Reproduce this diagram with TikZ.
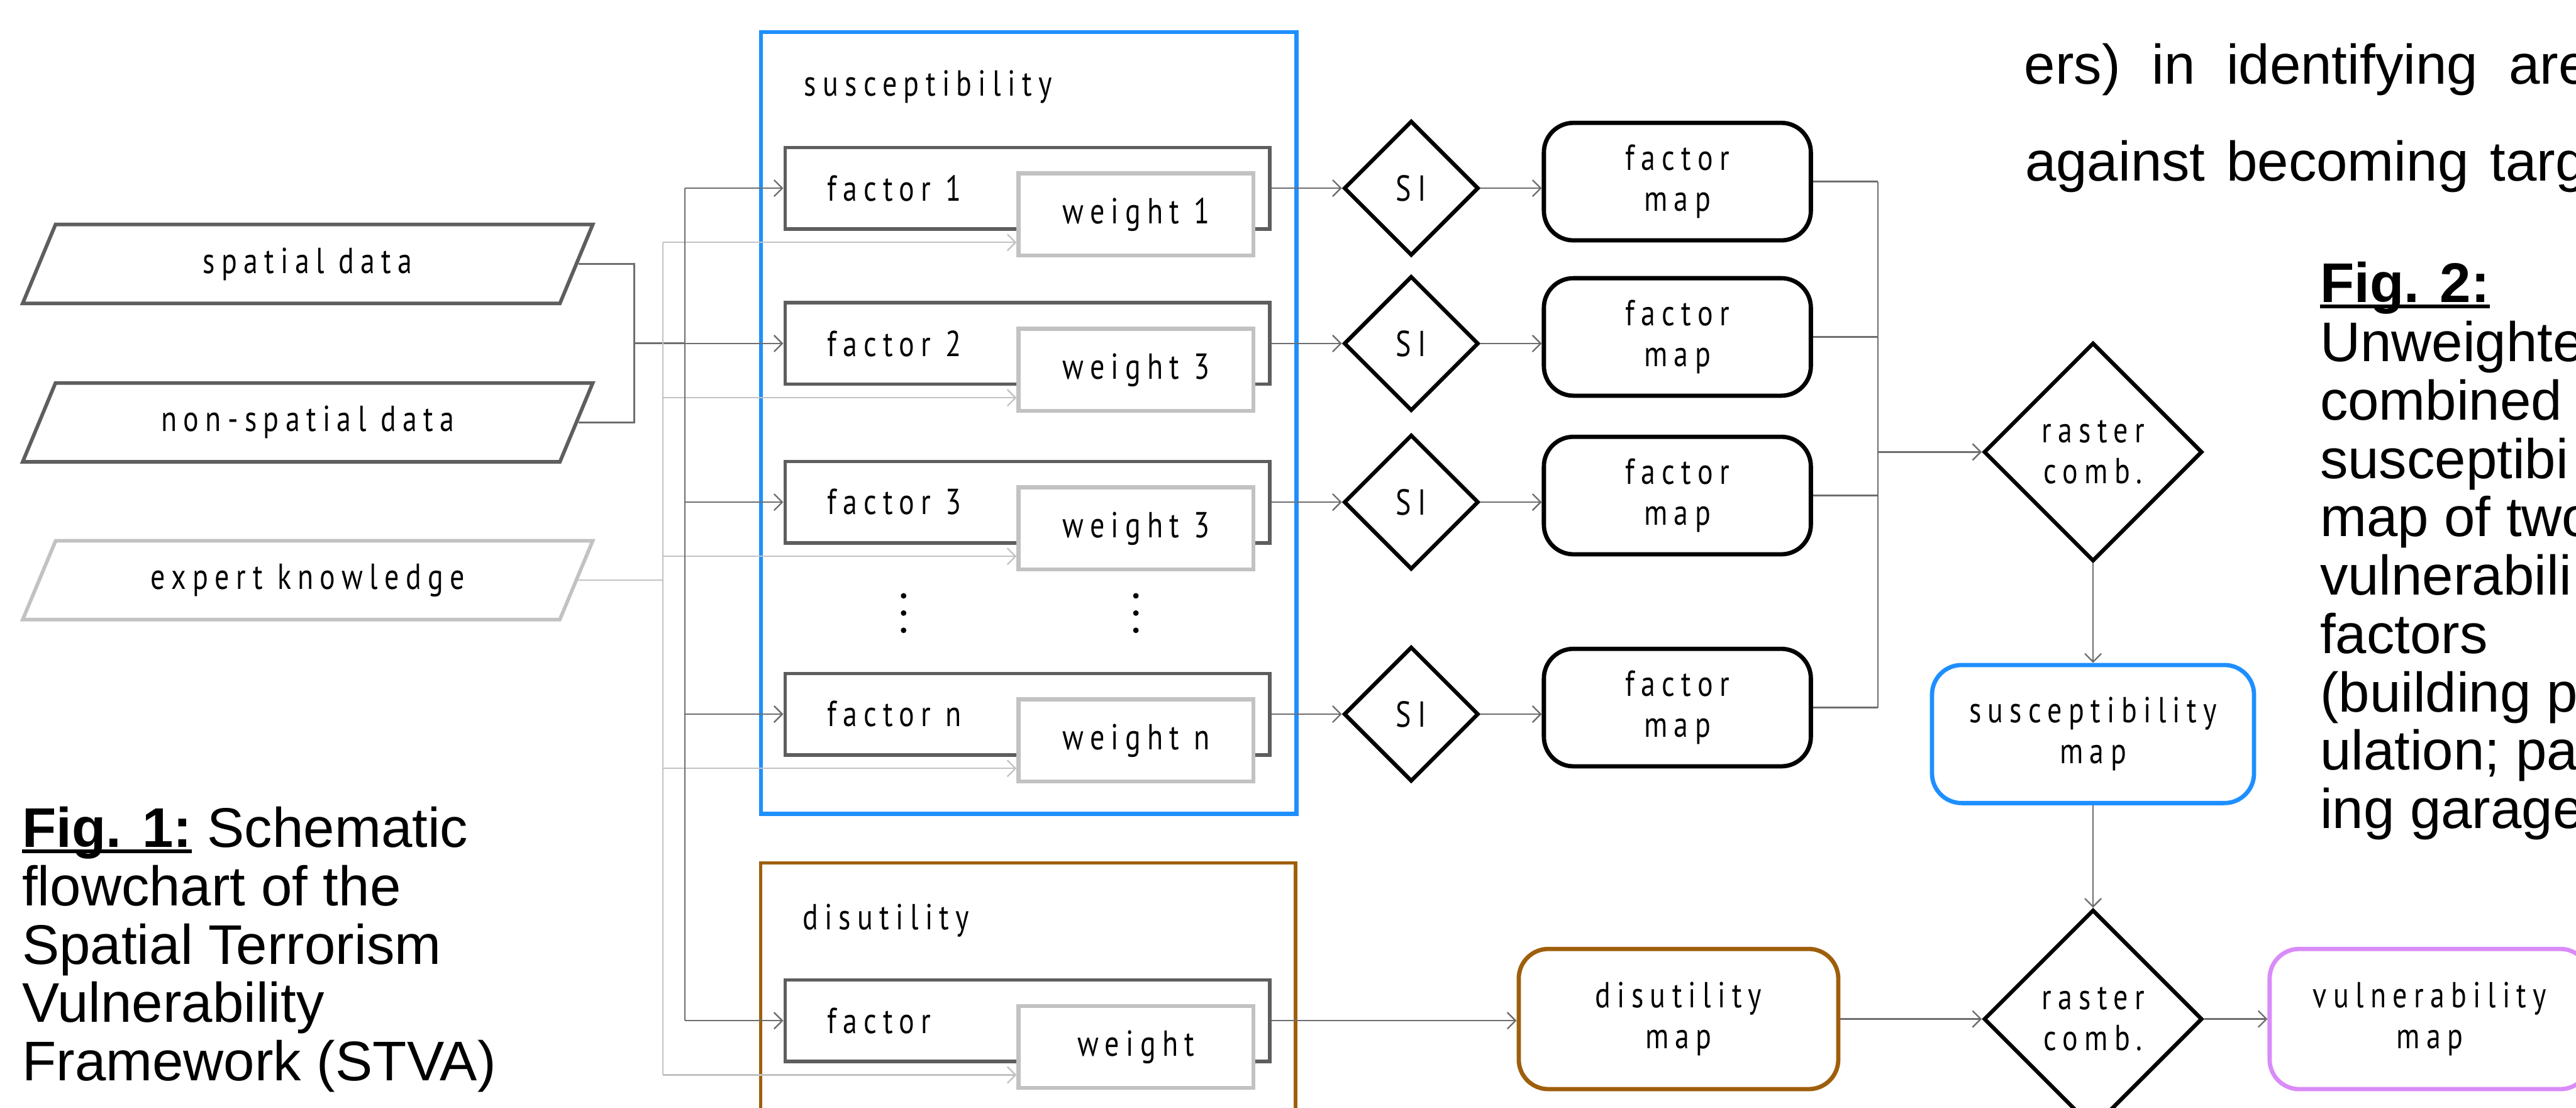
\documentclass[tikz,border=0pt]{standalone}
\usepackage{fontspec}
\setmainfont{Liberation Sans}
\newfontfamily\handfont[FakeStretch=0.8,LetterSpace=18]{PT Sans}
\usetikzlibrary{shapes.geometric,arrows.meta}
\definecolor{cblue}{HTML}{1E8FFF}
\definecolor{cbrown}{HTML}{9E5F0C}
\definecolor{cviolet}{HTML}{D98BF8}
\definecolor{dgrey}{HTML}{5E5E5E}
\definecolor{lgrey}{HTML}{C2C2C2}
\definecolor{cgrey}{HTML}{6E6E6E}
\newcommand\figul[1]{\setbox0\hbox{#1}\rlap{\rule[-0.1em]{\wd0}{0.06em}}\box0\relax}
\begin{document}
\begin{tikzpicture}[x=1pt,y=-1pt,
 hand/.style={font=\handfont\fontsize{22}{25}\selectfont},
 captxt/.style={font=\fontsize{34}{35.5}\selectfont, inner sep=0pt, anchor=base west},
 para/.style={trapezium, trapezium left angle=45, trapezium right angle=135, trapezium stretches body, minimum width=347pt, minimum height=48pt, inner sep=0pt, line width=2.2pt, hand},
 fbox/.style={draw=dgrey, line width=2.2pt, minimum width=295pt, minimum height=49.5pt, inner sep=0pt},
 wbox/.style={draw=lgrey, fill=white, line width=2.4pt, minimum width=143pt, minimum height=50pt, inner sep=0pt, hand},
 sidia/.style={diamond, draw=black, line width=2.4pt, minimum width=82pt, minimum height=82pt, inner sep=0pt, hand},
 rmap/.style={draw, rounded corners=18pt, line width=2.6pt, align=center, inner sep=0pt, hand},
 rdia/.style={diamond, draw=black, line width=2.4pt, minimum width=133pt, minimum height=133pt, inner sep=0pt, align=center, hand},
 conn/.style={draw=cgrey, line width=0.9pt},
 lconn/.style={draw=lgrey, line width=0.9pt},
 arr/.style={conn, -{Straight Barb[length=5pt,width=10pt]}},
 larr/.style={lconn, -{Straight Barb[length=5pt,width=10pt]}},
]
\useasboundingbox (0,0) rectangle (1568,674);

% frames
\node[draw=cblue, line width=2.6pt, minimum width=326pt, minimum height=475.5pt, inner sep=0pt] (suscframe) at (626.2,257.3) {};
\node[draw=cbrown, line width=2.2pt, minimum width=325.6pt, minimum height=190pt, inner sep=0pt] (disframe) at (625.8,620) {};
\node[hand, anchor=west] (susclbl) at (486,53) {susceptibility};
\node[hand, anchor=west] (dislbl) at (485,560) {disutility};

% inputs
\node[para, draw=dgrey] (spatial) at (187.3,160.6) {spatial data};
\node[para, draw=dgrey] (nonsp) at (187.3,257) {non-spatial data};
\node[para, draw=lgrey] (expert) at (187.3,353) {expert knowledge};

\coordinate (dbus) at (417,114.5);
\coordinate (lbus) at (403.4,147.5);
\coordinate (jn) at (386,208.8);
\coordinate (br) at (1143,275);

% factor rows
\foreach \rw/\ty/\fl/\wl in {1/114.5/1/1, 2/209/2/3, 3/305.5/3/3, 4/434.5/n/n}{
  \node[fbox] (f\rw) at (625.4,\ty) {};
  \node[hand, anchor=west] (ft\rw) at (500,\ty) {factor \fl};
  \node[wbox] (w\rw) at (691.5,\ty+16) {weight \wl};
  \node[sidia] (si\rw) at (859,\ty) {SI};
  \node[rmap, minimum width=162.5pt, minimum height=71.5pt] (fm\rw) at (1021,\ty-4) {factor\\map};
  \draw[arr] (f\rw.west -| dbus) -- (f\rw.west);
  \draw[larr] ([yshift=-17pt]w\rw.west -| lbus) -- ([yshift=-17pt]w\rw.west);
  \draw[arr] (f\rw.east) -- (si\rw.west);
  \draw[arr] (si\rw.east) -- (si\rw.east -| fm\rw.west);
  \draw[conn] (fm\rw.east) -- (fm\rw.east -| br);
}

% disutility row
\node[fbox] (fd) at (625.4,621) {};
\node[hand, anchor=west] (fdt) at (500,621) {factor};
\node[wbox] (wd) at (691.5,637) {weight};
\draw[arr] (fd.west -| dbus) -- (fd.west);
\draw[larr] ([yshift=-17pt]wd.west -| lbus) -- ([yshift=-17pt]wd.west);

% dots
\foreach \x in {550,691.4}
  \foreach \y in {362.5,373,383.5}
    \fill (\x,\y) circle (1.7pt);

% input connectors
\draw[conn] (spatial.east) -- (spatial.east -| jn) -- (nonsp.east -| jn) -- (nonsp.east);
\draw[conn] (jn) -- (jn -| dbus);
\draw[conn] (dbus) -- (fd.west -| dbus);
\draw[lconn] (expert.east) -- (expert.east -| lbus);
\draw[lconn] (lbus) -- ([yshift=-17pt]wd.west -| lbus);

% right part
\node[rdia] (rc1) at (1274,275) {raster\\comb.};
\node[rmap, draw=cblue, minimum width=196pt, minimum height=84pt] (smap) at (1274,446.6) {susceptibility\\map};
\node[rdia] (rc2) at (1274,620) {raster\\comb.};
\node[rmap, draw=cbrown, minimum width=194.5pt, minimum height=85.3pt] (dmap) at (1021.7,620) {disutility\\map};
\node[rmap, draw=cviolet, minimum width=195pt, minimum height=85.3pt] (vmap) at (1479,620) {vulnerability\\map};

\draw[conn] (fm1.east -| br) -- (fm4.east -| br);
\draw[arr] (br) -- (rc1.west);
\draw[arr] (rc1.south) -- (smap.north);
\draw[arr] (smap.south) -- (rc2.north);
\draw[arr] (fd.east) -- (fd.east -| dmap.west);
\draw[arr] (dmap.east) -- (rc2.west);
\draw[arr] (rc2.east) -- (vmap.west);

% captions
\node[captxt] (f1a) at (13.3,515.5) {\figul{\bfseries Fig. 1:} Schematic};
\node[captxt] (f1b) at (13.3,551) {flowchart of the};
\node[captxt] (f1c) at (13.3,586.5) {Spatial Terrorism};
\node[captxt] (f1d) at (13.3,622) {Vulnerability};
\node[captxt] (f1e) at (13.3,657.5) {Framework (STVA)};

\node[captxt] (top1) at (1232,51) {\spaceskip=19pt\relax ers) in identifying are};
\node[captxt] (top2) at (1232.5,110) {\spaceskip=13pt\relax against becoming targ};
\node[captxt] (f2a) at (1412,184) {\figul{\bfseries Fig. 2:}};
\node[captxt] (f2b) at (1412,220) {Unweighte};
\node[captxt] (f2c) at (1412,255.5) {combined};
\node[captxt] (f2d) at (1412,291) {susceptibi};
\node[captxt] (f2e) at (1412,326.5) {map of two};
\node[captxt] (f2f) at (1412,362) {vulnerabili};
\node[captxt] (f2g) at (1412,397.5) {factors};
\node[captxt] (f2h) at (1412,433) {(building p};
\node[captxt] (f2i) at (1412,468.5) {ulation; pa};
\node[captxt] (f2j) at (1412,504) {ing garage};
\end{tikzpicture}
\end{document}
